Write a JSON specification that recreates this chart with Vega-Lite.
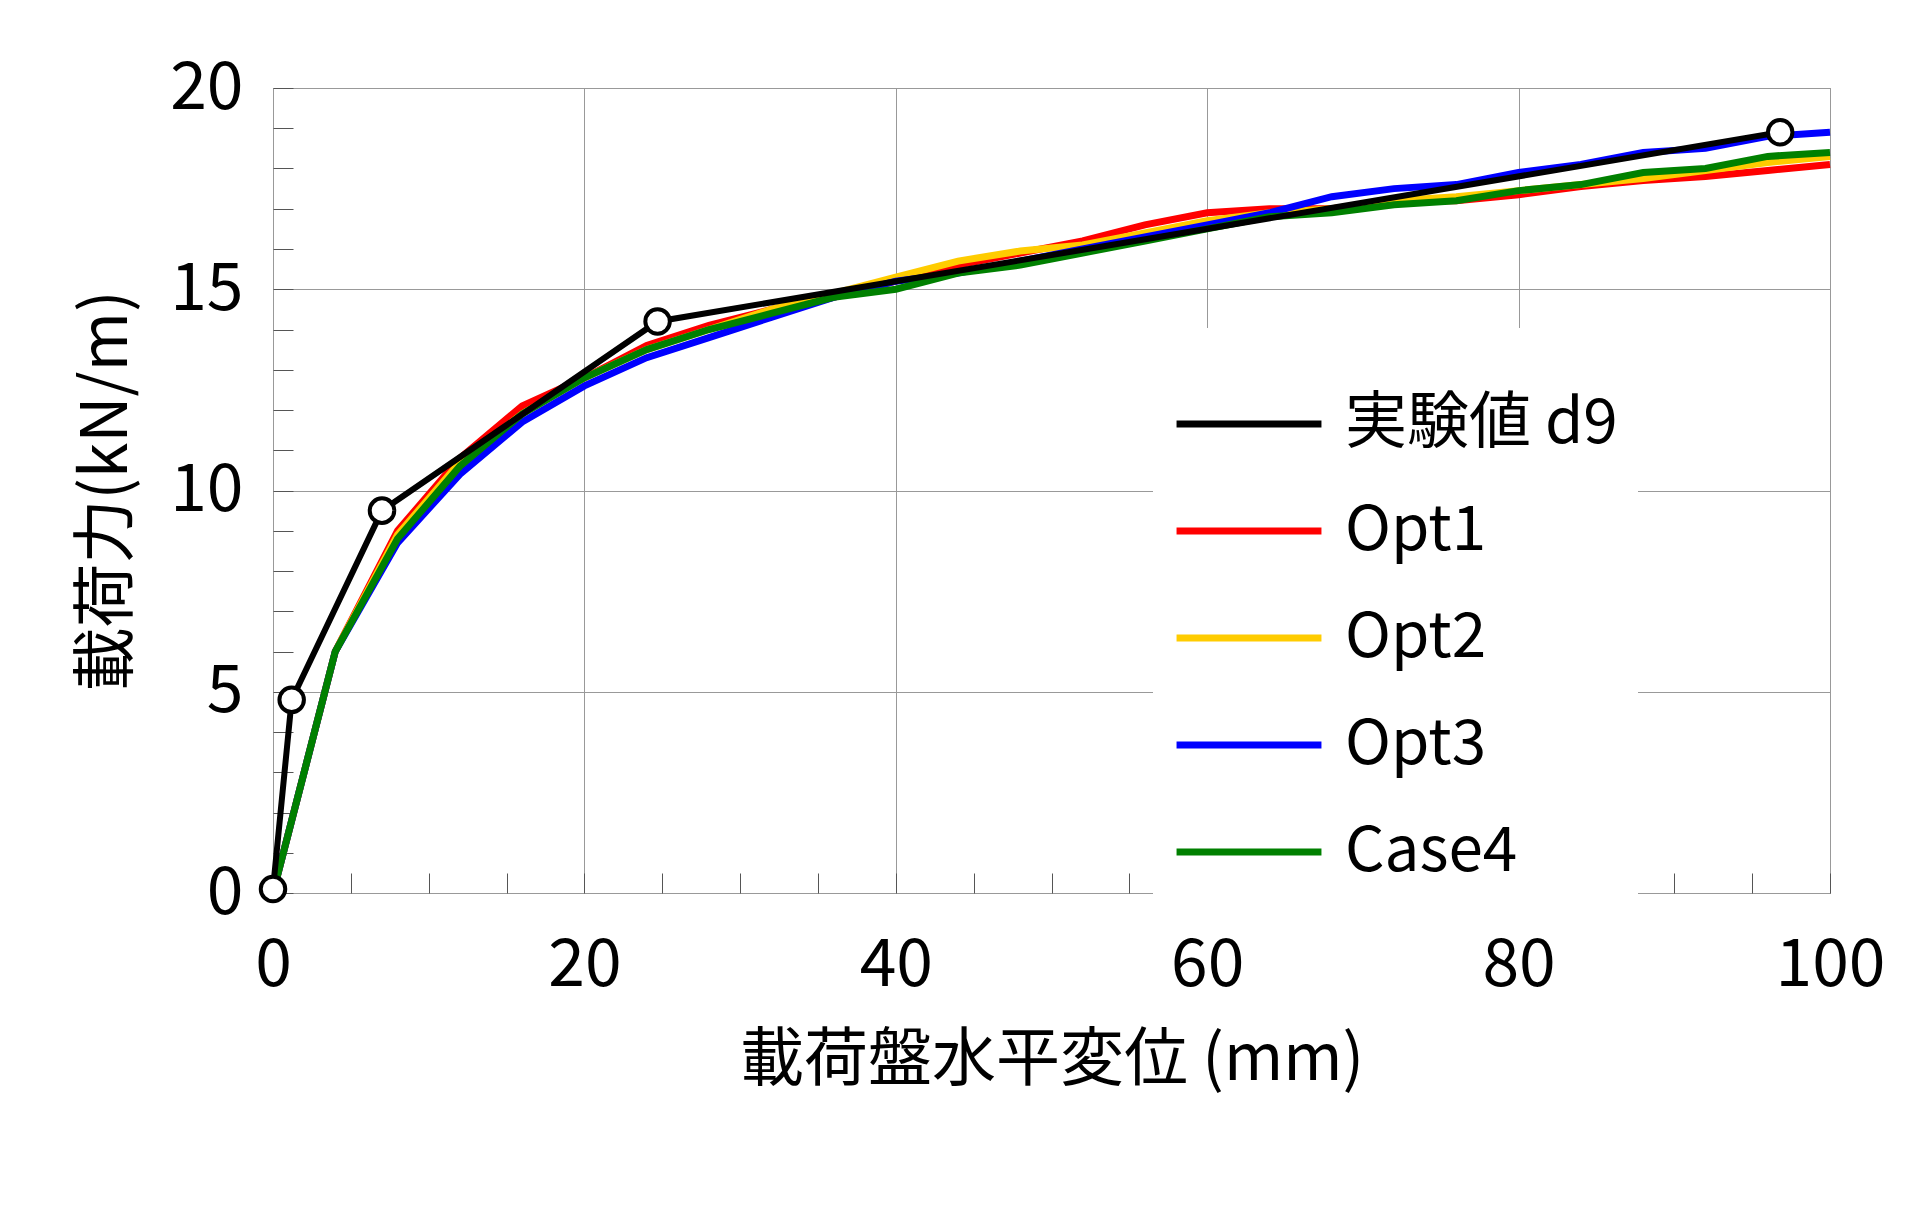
{
"$schema":"https://vega.github.io/schema/vega-lite/v6.json",
"width":1557,"height":805,
"autosize":{"type":"none"},
"padding":{"left":273,"top":88,"right":90,"bottom":315},
"background":"white",
"config":{"font":"Noto Sans CJK JP","view":{"stroke":"#888","strokeWidth":1}},
"datasets":{
"exp":[{"x":0,"y":0.1,"s":"実験値 d9"},{"x":1.2,"y":4.8,"s":"実験値 d9"},{"x":7,"y":9.5,"s":"実験値 d9"},{"x":24.7,"y":14.2,"s":"実験値 d9"},{"x":96.8,"y":18.9,"s":"実験値 d9"}],
"sim":[
{"x":0,"y":0,"s":"Opt1"},{"x":4,"y":6,"s":"Opt1"},{"x":8,"y":9,"s":"Opt1"},{"x":12,"y":10.8,"s":"Opt1"},{"x":16,"y":12.1,"s":"Opt1"},{"x":20,"y":12.8,"s":"Opt1"},{"x":24,"y":13.6,"s":"Opt1"},{"x":28,"y":14.1,"s":"Opt1"},{"x":32,"y":14.5,"s":"Opt1"},{"x":36,"y":14.8,"s":"Opt1"},{"x":40,"y":15.2,"s":"Opt1"},{"x":44,"y":15.6,"s":"Opt1"},{"x":48,"y":15.9,"s":"Opt1"},{"x":52,"y":16.2,"s":"Opt1"},{"x":56,"y":16.6,"s":"Opt1"},{"x":60,"y":16.9,"s":"Opt1"},{"x":64,"y":17.0,"s":"Opt1"},{"x":68,"y":17.0,"s":"Opt1"},{"x":72,"y":17.2,"s":"Opt1"},{"x":76,"y":17.2,"s":"Opt1"},{"x":80,"y":17.35,"s":"Opt1"},{"x":84,"y":17.55,"s":"Opt1"},{"x":88,"y":17.7,"s":"Opt1"},{"x":92,"y":17.8,"s":"Opt1"},{"x":96,"y":17.95,"s":"Opt1"},{"x":100,"y":18.1,"s":"Opt1"},
{"x":0,"y":0,"s":"Opt2"},{"x":4,"y":6,"s":"Opt2"},{"x":8,"y":8.9,"s":"Opt2"},{"x":12,"y":10.7,"s":"Opt2"},{"x":16,"y":11.9,"s":"Opt2"},{"x":20,"y":12.8,"s":"Opt2"},{"x":24,"y":13.5,"s":"Opt2"},{"x":28,"y":14.0,"s":"Opt2"},{"x":32,"y":14.5,"s":"Opt2"},{"x":36,"y":14.9,"s":"Opt2"},{"x":40,"y":15.3,"s":"Opt2"},{"x":44,"y":15.7,"s":"Opt2"},{"x":48,"y":15.95,"s":"Opt2"},{"x":52,"y":16.1,"s":"Opt2"},{"x":56,"y":16.4,"s":"Opt2"},{"x":60,"y":16.7,"s":"Opt2"},{"x":64,"y":16.9,"s":"Opt2"},{"x":68,"y":17.0,"s":"Opt2"},{"x":72,"y":17.2,"s":"Opt2"},{"x":76,"y":17.3,"s":"Opt2"},{"x":80,"y":17.45,"s":"Opt2"},{"x":84,"y":17.6,"s":"Opt2"},{"x":88,"y":17.75,"s":"Opt2"},{"x":92,"y":17.95,"s":"Opt2"},{"x":96,"y":18.15,"s":"Opt2"},{"x":100,"y":18.3,"s":"Opt2"},
{"x":0,"y":0,"s":"Opt3"},{"x":4,"y":6,"s":"Opt3"},{"x":8,"y":8.7,"s":"Opt3"},{"x":12,"y":10.4,"s":"Opt3"},{"x":16,"y":11.7,"s":"Opt3"},{"x":20,"y":12.6,"s":"Opt3"},{"x":24,"y":13.3,"s":"Opt3"},{"x":28,"y":13.8,"s":"Opt3"},{"x":32,"y":14.3,"s":"Opt3"},{"x":36,"y":14.8,"s":"Opt3"},{"x":40,"y":15.2,"s":"Opt3"},{"x":44,"y":15.4,"s":"Opt3"},{"x":48,"y":15.7,"s":"Opt3"},{"x":52,"y":16.0,"s":"Opt3"},{"x":56,"y":16.3,"s":"Opt3"},{"x":60,"y":16.6,"s":"Opt3"},{"x":64,"y":16.9,"s":"Opt3"},{"x":68,"y":17.3,"s":"Opt3"},{"x":72,"y":17.5,"s":"Opt3"},{"x":76,"y":17.6,"s":"Opt3"},{"x":80,"y":17.9,"s":"Opt3"},{"x":84,"y":18.1,"s":"Opt3"},{"x":88,"y":18.4,"s":"Opt3"},{"x":92,"y":18.5,"s":"Opt3"},{"x":96,"y":18.8,"s":"Opt3"},{"x":100,"y":18.9,"s":"Opt3"},
{"x":0,"y":0,"s":"Case4"},{"x":4,"y":6,"s":"Case4"},{"x":8,"y":8.8,"s":"Case4"},{"x":12,"y":10.6,"s":"Case4"},{"x":16,"y":11.9,"s":"Case4"},{"x":20,"y":12.8,"s":"Case4"},{"x":24,"y":13.5,"s":"Case4"},{"x":28,"y":14.0,"s":"Case4"},{"x":32,"y":14.4,"s":"Case4"},{"x":36,"y":14.8,"s":"Case4"},{"x":40,"y":15.0,"s":"Case4"},{"x":44,"y":15.4,"s":"Case4"},{"x":48,"y":15.6,"s":"Case4"},{"x":52,"y":15.9,"s":"Case4"},{"x":56,"y":16.2,"s":"Case4"},{"x":60,"y":16.5,"s":"Case4"},{"x":64,"y":16.8,"s":"Case4"},{"x":68,"y":16.9,"s":"Case4"},{"x":72,"y":17.1,"s":"Case4"},{"x":76,"y":17.2,"s":"Case4"},{"x":80,"y":17.45,"s":"Case4"},{"x":84,"y":17.6,"s":"Case4"},{"x":88,"y":17.9,"s":"Case4"},{"x":92,"y":18.0,"s":"Case4"},{"x":96,"y":18.3,"s":"Case4"},{"x":100,"y":18.4,"s":"Case4"}
]},
"encoding":{
"x":{"field":"x","type":"quantitative","scale":{"domain":[0,100],"nice":false},
"axis":{"title":"載荷盤水平変位 (mm)","values":[0,5,10,15,20,25,30,35,40,45,50,55,60,65,70,75,80,85,90,95,100],
"labelExpr":"datum.value % 20 === 0 ? datum.label : ''","labelFontSize":66,"labelColor":"black","labelPadding":60,"labelFlush":false,"labelOverlap":false,
"tickSize":-20,"tickColor":"#555","domain":false,
"gridColor":{"condition":{"test":"datum.value % 20 === 0","value":"#999"},"value":"transparent"},
"titleFontSize":64,"titleFontWeight":"normal","titleColor":"black","titlePadding":30}},
"y":{"field":"y","type":"quantitative","scale":{"domain":[0,20],"nice":false},
"axis":{"title":"載荷力(kN/m)","values":[0,1,2,3,4,5,6,7,8,9,10,11,12,13,14,15,16,17,18,19,20],
"labelExpr":"datum.value % 5 === 0 ? datum.label : ''","labelFontSize":66,"labelColor":"black","labelPadding":50,"labelFlush":false,"labelOverlap":false,
"tickSize":-20,"tickColor":"#555","domain":false,
"gridColor":{"condition":{"test":"datum.value % 5 === 0","value":"#999"},"value":"transparent"},
"titleFontSize":64,"titleFontWeight":"normal","titleColor":"black","titlePadding":30}},
"color":{"field":"s","type":"nominal","scale":{"domain":["実験値 d9","Opt1","Opt2","Opt3","Case4"],"range":["black","#ff0000","#ffcc00","#0000ff","#008000"]},
"legend":{"title":null,"orient":"none","legendX":880,"legendY":240,"fillColor":"white","padding":20,
"symbolType":"stroke","symbolStrokeWidth":7,"symbolSize":21000,"labelFontSize":62,"labelColor":"black","labelLimit":500,"rowPadding":-45,"labelOffset":20}}
},
"layer":[
{"data":{"name":"sim"},"mark":{"type":"line","strokeWidth":7}},
{"data":{"name":"exp"},"mark":{"type":"line","strokeWidth":6}},
{"data":{"name":"exp"},"mark":{"type":"point","filled":true,"fill":"white","stroke":"black","strokeWidth":4,"size":600,"opacity":1}}
]
}
